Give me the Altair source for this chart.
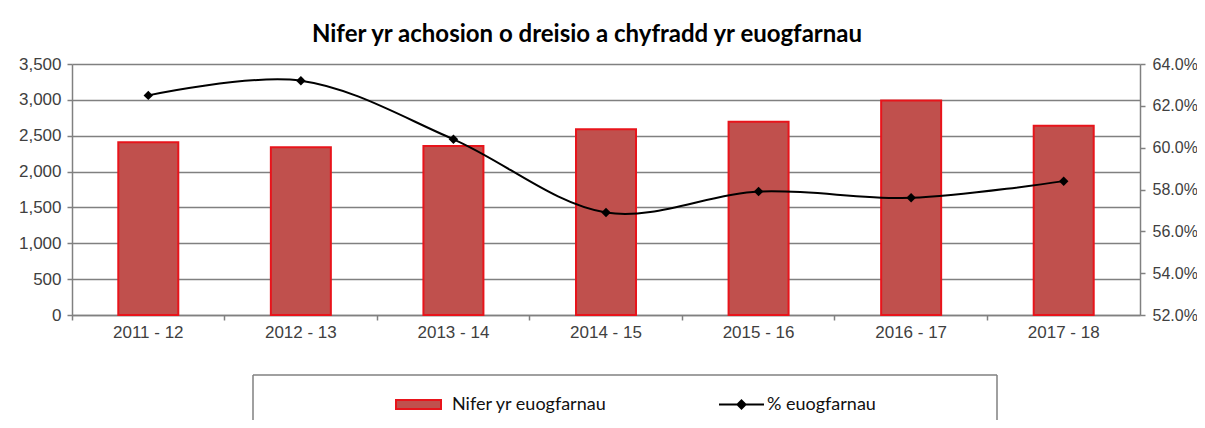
import altair as alt
import pandas as pd

years = ["2011 - 12", "2012 - 13", "2013 - 14", "2014 - 15", "2015 - 16", "2016 - 17", "2017 - 18"]
convictions = [2410, 2340, 2355, 2590, 2695, 2990, 2640]
pct_convicted = [62.5, 63.2, 60.4, 56.9, 57.9, 57.6, 58.4]
left_ticks = [0, 500, 1000, 1500, 2000, 2500, 3000, 3500]
right_ticks = [52, 54, 56, 58, 60, 62, 64]
bar_series = "Nifer yr euogfarnau"
line_series = "% euogfarnau"

df = pd.DataFrame({
    "year": years,
    "count": convictions,
    "pct": pct_convicted,
    "s_bar": [bar_series] * len(years),
    "s_line": [line_series] * len(years),
})

AXIS_FONT = "Liberation Sans"
LEG_FONT = "Lato"
GREY = "#808080"
LABEL = "#404040"

x_scale = alt.Scale(domain=years, paddingInner=0, paddingOuter=0)

base = alt.Chart(df)

bars = base.mark_bar(size=60, stroke="#E8141B", strokeWidth=2).encode(
    x=alt.X("year:N", scale=x_scale, sort=years, title=None,
            axis=alt.Axis(orient="bottom", labelAngle=0, ticks=False, domain=True,
                          domainColor=GREY, domainWidth=1.5, labelFont=AXIS_FONT,
                          labelFontSize=17, labelColor=LABEL, labelPadding=9, grid=False)),
    y=alt.Y("count:Q", scale=alt.Scale(domain=[0, 3500], nice=False), title=None,
            axis=alt.Axis(orient="left", values=left_ticks,
                          labelExpr="format(datum.value, ',.0f')", grid=True,
                          gridColor=GREY, gridWidth=1.5, domainColor=GREY, domainWidth=1.5,
                          tickColor=GREY, tickWidth=1.5, tickSize=5, labelFont=AXIS_FONT,
                          labelFontSize=17, labelColor=LABEL, labelPadding=6)),
    color=alt.Color("s_bar:N", scale=alt.Scale(domain=[bar_series], range=["#C0504D"]),
                    legend=alt.Legend(orient="none", legendX=323, legendY=317, title=None,
                                      padding=0, symbolType="M-1,-0.2H1V0.2H-1Z",
                                      symbolSize=2025, symbolStrokeColor="#E8141B",
                                      symbolStrokeWidth=2, labelFont=LEG_FONT,
                                      labelFontSize=18, labelColor="#111111",
                                      labelOffset=10)),
)

right_axis = alt.Axis(orient="right", values=right_ticks,
                      labelExpr="format(datum.value, '.1f') + '%'", grid=False,
                      domainColor=GREY, domainWidth=1.5, tickColor=GREY, tickWidth=1.5,
                      tickSize=5, labelFont=AXIS_FONT, labelFontSize=16, labelColor=LABEL,
                      labelPadding=7)
tick_axis = alt.Axis(orient="bottom", labels=False, ticks=True, bandPosition=0,
                     domain=False, grid=False, tickColor=GREY, tickWidth=1.5, tickSize=5)
y_right = alt.Scale(domain=[52, 64], nice=False, zero=False)

line = base.mark_line(interpolate="catmull-rom", strokeWidth=2).encode(
    x=alt.X("year:N", scale=x_scale, sort=years, title=None, axis=tick_axis),
    y=alt.Y("pct:Q", scale=y_right, title=None, axis=right_axis),
    color=alt.Color("s_line:N", scale=alt.Scale(domain=[line_series], range=["#000000"]),
                    legend=alt.Legend(orient="none", legendX=646, legendY=317, title=None,
                                      padding=0,
                                      symbolType="M-1,0H1M0,-0.18L0.18,0L0,0.18L-0.18,0Z",
                                      symbolSize=2025, symbolStrokeColor="#000000",
                                      symbolFillColor="#000000", symbolStrokeWidth=2,
                                      labelFont=LEG_FONT, labelFontSize=18,
                                      labelColor="#111111", labelOffset=2)),
)

pts = base.mark_point(shape="diamond", filled=True, size=90, color="#000000", opacity=1).encode(
    x=alt.X("year:N", scale=x_scale, sort=years, title=None, axis=tick_axis),
    y=alt.Y("pct:Q", scale=y_right, title=None, axis=right_axis),
)

main = alt.layer(bars, alt.layer(line, pts)).resolve_scale(
    y="independent", color="independent").resolve_axis(x="independent")

one = alt.Data(values=[{"k": 1}])
box_top = alt.Chart(one).mark_rule(color=GREY, strokeWidth=1.5).encode(
    x=alt.value(181), x2=alt.value(925), y=alt.value(311))
box_left = alt.Chart(one).mark_rule(color=GREY, strokeWidth=1.5).encode(
    x=alt.value(181), y=alt.value(311), y2=alt.value(420))
box_right = alt.Chart(one).mark_rule(color=GREY, strokeWidth=1.5).encode(
    x=alt.value(925), y=alt.value(311), y2=alt.value(420))

chart = alt.layer(main, box_top, box_left, box_right).properties(
    width=1068, height=251,
    title=alt.Title("Nifer yr achosion o dreisio a chyfradd yr euogfarnau", font=LEG_FONT,
                    fontSize=24, fontWeight="bold", color="#000000", anchor="middle",
                    dx=-19, dy=5, offset=13),
    autosize=alt.AutoSizeParams(type="none"),
    padding={"left": 64, "top": 56, "right": 57, "bottom": 105},
).configure_view(stroke=None)

chart.save("out.html", embed_options={"renderer": "svg", "actions": False})
